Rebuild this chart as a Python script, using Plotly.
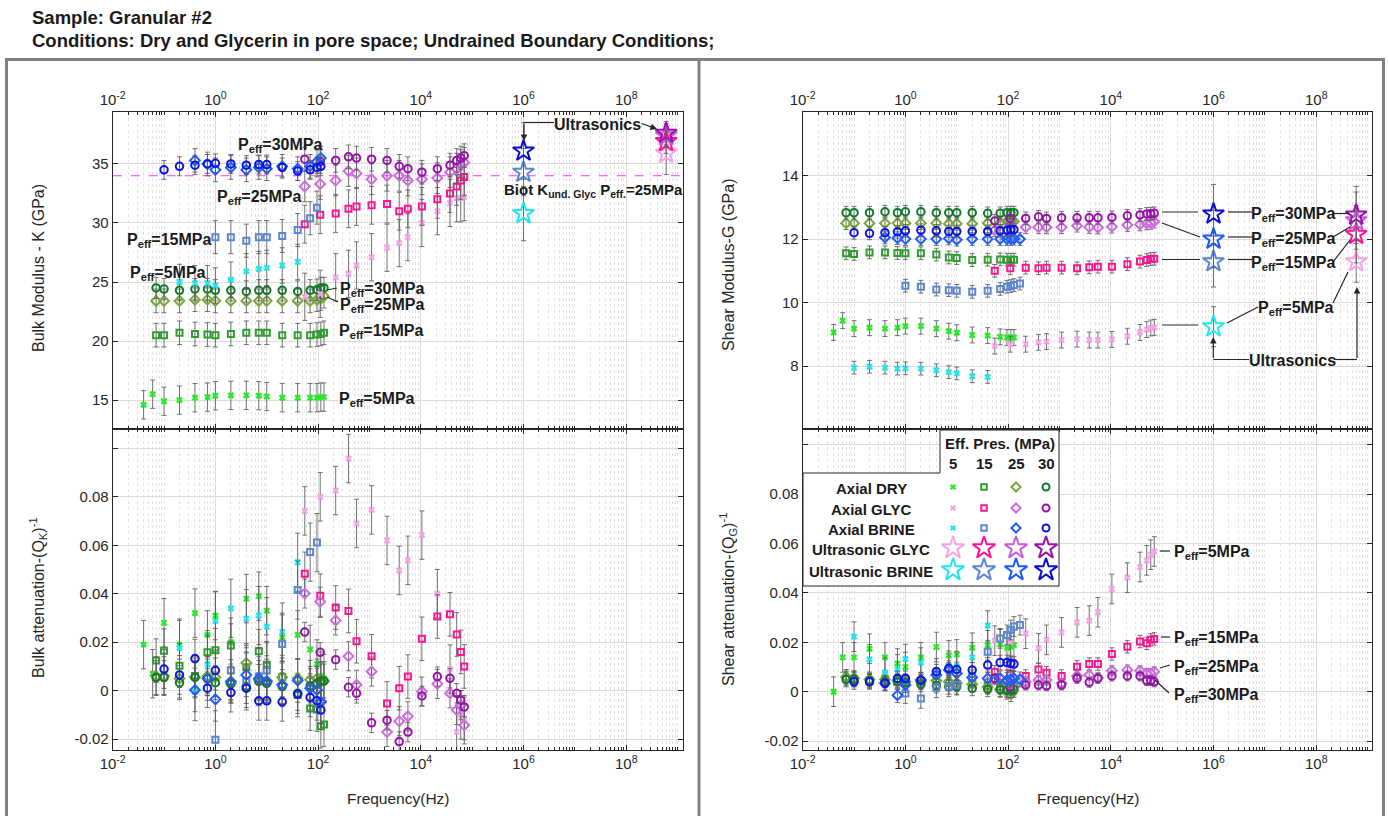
import plotly.graph_objects as go

# ------------------------------------------------------------------ data
# frequencies (Hz)
F_DRY5 = [0.04, 0.06, 0.1, 0.2, 0.4, 0.7, 1, 2, 4, 7, 10, 20, 40, 70, 95, 113, 130]
F_DRY = [0.07, 0.1, 0.2, 0.4, 0.7, 1, 2, 4, 7, 10, 20, 40, 70, 95, 113, 130]
F_GLY = [55, 110, 220, 390, 560, 1100, 2200, 3800, 5600, 10500, 21000, 37000, 50000, 60000, 70000]
F_B5K = [0.2, 0.4, 0.7, 1, 2, 4, 7, 10, 20, 40]
F_B15K = [1, 2, 4, 7, 10, 20, 40, 70, 95]
F_B25K = [0.4, 0.7, 1, 2, 4, 7, 10, 20, 40, 70, 95, 113]
F_B30K = [0.1, 0.2, 0.4, 0.7, 1, 2, 4, 7, 10, 20, 40, 70, 95, 113]
F_B5G = [0.1, 0.2, 0.4, 0.7, 1, 2, 4, 7, 10, 20, 40]
F_B15G = [1, 2, 4, 7, 10, 20, 40, 70, 95, 113, 130, 170]
F_B25G = [0.4, 0.7, 1, 2, 4, 7, 10, 20, 40, 70, 95, 113, 130, 170]
F_B30G = [0.1, 0.2, 0.4, 0.7, 1, 2, 4, 7, 10, 20, 40, 70, 95, 113, 130]
F_US_BRINE = 1e6
F_US_GLYC = 6e8
F_LINE = [1e-2, 1.3e9]

# Bulk modulus K (GPa)
K_D5 = [14.6, 15.5, 14.9, 15.0, 15.2, 15.25, 15.37, 15.4, 15.4, 15.37, 15.3, 15.2, 15.2, 15.2, 15.2, 15.25, 15.25]
K_D15 = [20.5, 20.5, 20.7, 20.6, 20.55, 20.5, 20.6, 20.7, 20.7, 20.7, 20.5, 20.5, 20.5, 20.55, 20.6, 20.7]
K_D25 = [23.4, 23.4, 23.4, 23.5, 23.5, 23.4, 23.4, 23.4, 23.4, 23.4, 23.4, 23.4, 23.4, 23.5, 23.6, 23.8]
K_D30 = [24.5, 24.4, 24.3, 24.4, 24.4, 24.3, 24.3, 24.2, 24.3, 24.3, 24.3, 24.2, 24.3, 24.35, 24.5, 24.5]
K_B5 = [25.0, 24.9, 24.9, 24.7, 25.2, 25.9, 26.1, 26.2, 26.4, 26.7]
K_B15 = [28.8, 28.8, 28.5, 28.8, 28.8, 28.9, 29.4, 30.4, 31.3]
K_B25 = [35.3, 35.0, 34.5, 34.7, 34.5, 34.7, 34.6, 34.8, 34.6, 34.8, 35.2, 35.5]
K_B30 = [34.5, 34.8, 34.9, 35.0, 35.05, 35.0, 34.9, 34.95, 34.95, 34.7, 34.4, 34.5, 34.7, 34.8]
K_G5 = [23.75, 24.0, 25.4, 25.7, 26.4, 27.1, 27.9, 28.3, 28.8, 30.0, 31.0, 31.7, 32.1, 32.1, 32.2]
K_G15 = [29.9, 30.7, 30.8, 31.2, 31.4, 31.5, 31.6, 31.0, 31.2, 31.4, 32.0, 32.5, 33.1, 33.6, 33.9]
K_G25 = [33.1, 33.3, 33.6, 34.4, 34.2, 33.7, 34.0, 34.0, 33.6, 33.7, 33.8, 34.3, 34.6, 34.9, 35.1]
K_G30 = [35.4, 35.2, 35.3, 35.6, 35.5, 35.4, 35.3, 34.8, 34.6, 34.3, 34.6, 34.9, 35.3, 35.5, 35.7]
K_BIOT_GLYC_25 = [34.0, 34.0]
K_US_BRINE = [30.8, 34.3, None, 36.1]      # 5, 15, 25, 30 MPa
K_US_BRINE_ERR = [2.3, 2.0, 0.0, 2.4]
K_US_GLYC = [35.9, 36.9, 37.4, 37.6]
K_US_GLYC_ERR = [1.8, 1.0, 1.0, 1.0]

# Bulk attenuation 1/Q_K
QK_D5 = [0.019, 0.007, 0.028, 0.019, 0.032, 0.023, 0.031, 0.02, 0.038, 0.039, 0.033, 0.022, 0.023, 0.017, 0.011, 0.006, 0.005]
QK_D15 = [0.0124, 0.0165, 0.0103, 0.006, 0.0158, 0.0167, 0.0186, 0.0097, 0.0163, 0.0107, 0.0056, -0.0018, -0.0074, -0.0078, -0.0147, -0.014]
QK_D25 = [0.006, 0.006, 0.005, 0.0055, 0.006, 0.0055, 0.003, 0.0114, 0.0045, 0.0033, 0.0055, 0.005, 0.0045, 0.005, 0.0038, 0.004]
QK_D30 = [0.0054, 0.0054, 0.0033, 0.0055, 0.0049, 0.0033, 0.0028, 0.0017, 0.0038, 0.003, 0.0017, -0.0011, 0.002, 0.003, 0.004, 0.004]
QK_B5 = [0.0176, -0.0004, 0.0107, 0.0288, 0.034, 0.0297, 0.031, 0.0264, 0.0242, 0.053]
QK_B15 = [-0.0203, 0.0083, 0.004, 0.0058, 0.0083, 0.0193, 0.0415, 0.0572, 0.0611]
QK_B25 = [0.0003, 0.005, -0.0036, 0.0038, 0.0065, 0.005, 0.004, 0.0024, 0.0042, 0.001, 0.0003, -0.0046]
QK_B30 = [0.0089, 0.0065, 0.0132, 0.001, 0.0083, -0.0008, 0.001, -0.0042, -0.0042, -0.0046, -0.0014, -0.0028, -0.0042, -0.008]
QK_G5 = [0.0742, 0.08, 0.0826, 0.0958, 0.069, 0.0746, 0.062, 0.0496, 0.0538, 0.0642, 0.04, 0.0089, -0.017, -0.01, -0.012]
QK_G15 = [0.0482, 0.0392, 0.0343, 0.0329, 0.0204, 0.0142, -0.0053, 0.001, 0.0058, 0.0214, 0.0306, 0.0315, 0.0232, 0.016, 0.01]
QK_G25 = [0.0401, 0.0367, 0.029, 0.0142, 0.0024, 0.0079, -0.0171, -0.0126, -0.0106, -0.0004, 0.0028, -0.0011, -0.008, -0.006, -0.0143]
QK_G30 = [0.0242, 0.0158, 0.0128, 0.0014, -0.0011, -0.0133, -0.0122, -0.021, -0.0171, -0.0022, 0.0058, 0.0051, -0.0011, -0.004, -0.0067]

# Shear modulus G (GPa)
G_D5 = [9.06, 9.43, 9.18, 9.21, 9.18, 9.21, 9.26, 9.26, 9.18, 9.1, 9.05, 8.98, 8.96, 8.92, 8.9, 8.9, 8.9]
G_D15 = [11.55, 11.53, 11.58, 11.58, 11.56, 11.55, 11.55, 11.51, 11.42, 11.40, 11.34, 11.35, 11.36, 11.35, 11.35, 11.35]
G_D25 = [12.5, 12.5, 12.5, 12.5, 12.5, 12.5, 12.5, 12.5, 12.48, 12.48, 12.48, 12.5, 12.52, 12.55, 12.55, 12.55]
G_D30 = [12.83, 12.83, 12.83, 12.86, 12.83, 12.86, 12.86, 12.83, 12.83, 12.83, 12.83, 12.81, 12.81, 12.83, 12.83, 12.83]
G_B5 = [7.95, 7.98, 7.95, 7.92, 7.93, 7.92, 7.87, 7.81, 7.77, 7.68, 7.66]
G_B15 = [10.53, 10.5, 10.41, 10.39, 10.37, 10.34, 10.37, 10.43, 10.5, 10.52, 10.55, 10.6]
G_B25 = [12.05, 12.03, 12.0, 12.0, 12.0, 12.02, 11.98, 12.0, 12.0, 12.0, 12.0, 12.0, 12.01, 12.0]
G_B30 = [12.2, 12.18, 12.2, 12.23, 12.26, 12.28, 12.26, 12.24, 12.24, 12.24, 12.24, 12.26, 12.28, 12.3, 12.3]
G_G5 = [8.63, 8.69, 8.69, 8.75, 8.77, 8.82, 8.85, 8.82, 8.82, 8.84, 8.94, 9.06, 9.15, 9.2, 9.22]
G_G15 = [11.0, 11.08, 11.1, 11.08, 11.1, 11.1, 11.08, 11.11, 11.13, 11.13, 11.21, 11.29, 11.34, 11.37, 11.38]
G_G25 = [12.28, 12.45, 12.37, 12.37, 12.37, 12.37, 12.42, 12.38, 12.36, 12.39, 12.44, 12.46, 12.49, 12.51, 12.55]
G_G30 = [12.57, 12.65, 12.65, 12.7, 12.65, 12.67, 12.67, 12.67, 12.67, 12.68, 12.73, 12.76, 12.79, 12.8, 12.81]
G_US_BRINE = [9.24, 11.29, 12.0, 12.79]
G_US_BRINE_ERR = [0.63, 0.8, 0.9, 0.93]
G_US_GLYC = [11.29, 12.15, 12.58, 12.76]
G_US_GLYC_ERR = [0.65, 0.9, 0.9, 0.9]

# Shear attenuation 1/Q_G
QG_D5 = [0.0, 0.0139, 0.0139, 0.0174, 0.0139, 0.0114, 0.01, 0.0139, 0.0181, 0.0147, 0.0151, 0.0178, 0.0188, 0.0192, 0.0178, 0.0182, 0.0189]
QG_D15 = [0.0054, 0.005, 0.0045, 0.005, 0.004, 0.004, 0.004, 0.004, 0.0035, 0.003, 0.003, 0.0025, 0.002, 0.001, 0.0015, 0.002]
QG_D25 = [0.006, 0.0055, 0.005, 0.005, 0.0045, 0.004, 0.004, 0.0045, 0.004, 0.0035, 0.003, 0.002, 0.001, 0.0, -0.001, 0.002]
QG_D30 = [0.005, 0.005, 0.0045, 0.004, 0.004, 0.0035, 0.003, 0.0025, 0.002, 0.002, 0.0014, 0.001, 0.0008, 0.0006, 0.0006, 0.0008]
QG_B5 = [0.0223, 0.0131, 0.0078, 0.009, 0.0132, 0.0118, 0.0074, 0.0105, 0.0104, 0.0139, 0.0268]
QG_B15 = [-0.0007, -0.0027, 0.0016, 0.002, 0.0027, 0.006, 0.0162, 0.0216, 0.023, 0.025, 0.0264, 0.027]
QG_B25 = [0.0034, -0.0014, 0.0027, 0.0047, 0.0068, 0.0088, 0.0074, 0.0058, 0.0054, 0.0054, 0.0047, 0.005, 0.0054, 0.005]
QG_B30 = [0.004, 0.004, 0.0034, 0.0054, 0.0054, 0.0047, 0.0081, 0.0095, 0.009, 0.0088, 0.0108, 0.0118, 0.0118, 0.0115, 0.0112]
QG_G5 = [0.0207, 0.02, 0.0235, 0.0176, 0.021, 0.024, 0.0281, 0.0288, 0.0322, 0.0416, 0.0462, 0.0505, 0.0532, 0.0555, 0.0568]
QG_G15 = [0.0081, 0.0074, 0.0064, 0.009, 0.0077, 0.0064, 0.0101, 0.0112, 0.0112, 0.0153, 0.0182, 0.0203, 0.0196, 0.021, 0.0214]
QG_G25 = [0.005, 0.003, 0.004, 0.0047, 0.0047, 0.0034, 0.0064, 0.0068, 0.0057, 0.0085, 0.0088, 0.0085, 0.0074, 0.0074, 0.0081]
QG_G30 = [0.0054, 0.002, 0.0027, 0.0027, 0.0024, 0.0027, 0.0054, 0.0038, 0.0054, 0.0064, 0.0064, 0.0064, 0.0045, 0.0045, 0.004]

# tick labels
X_TICKS = [1e-2, 1, 1e2, 1e4, 1e6, 1e8]
X_TICKTEXT = ["10<sup>-2</sup>", "10<sup>0</sup>", "10<sup>2</sup>", "10<sup>4</sup>",
              "10<sup>6</sup>", "10<sup>8</sup>"]
K_TICKS = [15, 20, 25, 30, 35]
G_TICKS = [8, 10, 12, 14, 16]
G_TICKTEXT = ["8", "10", "12", "14", ""]
Q_TICKS = [-0.02, 0, 0.02, 0.04, 0.06, 0.08, 0.1]
Q_TICKTEXT = ["-0.02", "0", "0.02", "0.04", "0.06", "0.08", ""]
PRESSURES = ["5", "15", "25", "30"]
LEG_ROWS = ["Axial DRY", "Axial GLYC", "Axial BRINE", "Ultrasonic GLYC", "Ultrasonic BRINE"]

# ------------------------------------------------------------------ styles
FONT = "Liberation Sans, Arial, sans-serif"
TXT = "#1a1a1a"
AX = "#262626"
ERRC = "rgba(90,90,90,0.85)"

SYM = ["x", "square-open", "diamond-open", "circle-open"]
SIZE = [6, 6, 7.5, 7.5]
C_DRY = ["#22ee22", "#2f9e2f", "#78a83a", "#0d7a27"]
C_GLY = ["#f7a3ea", "#ff1493", "#d06ae0", "#9a0fad"]
C_BRI = ["#20e6f0", "#5a86d4", "#1f5cff", "#0a14e8"]
C_USG = ["#f7a3ea", "#ff1493", "#c95ddc", "#9a0fad"]
C_USB = ["#20e6f0", "#5a86d4", "#1f5cff", "#0a0ad8"]

W, H = 1389, 816
fig = go.Figure()


def series(x, y, err, k, colors, xa, ya):
    lw = 0 if SYM[k] == "x" else 2
    fig.add_trace(go.Scatter(
        x=x, y=y, mode="markers", xaxis=xa, yaxis=ya, showlegend=False, hoverinfo="skip",
        marker=dict(symbol=SYM[k], size=SIZE[k], color=colors[k],
                    line=dict(color=colors[k], width=lw)),
        error_y=dict(type="constant", value=err, color=ERRC, thickness=1, width=2.5)))


def star(x, y, err, color, xa, ya, size=16):
    if y is None:
        return
    fig.add_trace(go.Scatter(
        x=[x], y=[y], mode="markers", xaxis=xa, yaxis=ya, showlegend=False, hoverinfo="skip",
        marker=dict(symbol="star-open", size=size, color=color, line=dict(color=color, width=2)),
        error_y=dict(type="constant", value=err, color=ERRC, thickness=1, width=2.5)))


# ---- Biot reference line (dashed magenta)
fig.add_trace(go.Scatter(x=F_LINE, y=K_BIOT_GLYC_25, mode="lines", xaxis="x", yaxis="y",
                         line=dict(color="#ff33ff", width=1.2, dash="dash"),
                         showlegend=False, hoverinfo="skip"))

# ---- Bulk modulus (x, y)
series(F_DRY5, K_D5, 1.2, 0, C_DRY, "x", "y")
series(F_DRY, K_D15, 1.0, 1, C_DRY, "x", "y")
series(F_DRY, K_D25, 1.0, 2, C_DRY, "x", "y")
series(F_DRY, K_D30, 0.9, 3, C_DRY, "x", "y")
series(F_GLY, K_G5, 2.0, 0, C_GLY, "x", "y")
series(F_GLY, K_G15, 1.6, 1, C_GLY, "x", "y")
series(F_GLY, K_G25, 1.3, 2, C_GLY, "x", "y")
series(F_GLY, K_G30, 1.0, 3, C_GLY, "x", "y")
series(F_B5K, K_B5, 1.5, 0, C_BRI, "x", "y")
series(F_B15K, K_B15, 1.4, 1, C_BRI, "x", "y")
series(F_B25K, K_B25, 1.0, 2, C_BRI, "x", "y")
series(F_B30K, K_B30, 0.8, 3, C_BRI, "x", "y")
for i in range(4):
    star(F_US_BRINE, K_US_BRINE[i], K_US_BRINE_ERR[i], C_USB[i], "x", "y")
for i in range(4):
    star(F_US_GLYC, K_US_GLYC[i], K_US_GLYC_ERR[i], C_USG[i], "x", "y")

# ---- Bulk attenuation (x2, y2)
series(F_DRY5, QK_D5, 0.010, 0, C_DRY, "x2", "y2")
series(F_DRY, QK_D15, 0.009, 1, C_DRY, "x2", "y2")
series(F_DRY, QK_D25, 0.008, 2, C_DRY, "x2", "y2")
series(F_DRY, QK_D30, 0.007, 3, C_DRY, "x2", "y2")
series(F_GLY, QK_G5, 0.010, 0, C_GLY, "x2", "y2")
series(F_GLY, QK_G15, 0.009, 1, C_GLY, "x2", "y2")
series(F_GLY, QK_G25, 0.006, 2, C_GLY, "x2", "y2")
series(F_GLY, QK_G30, 0.004, 3, C_GLY, "x2", "y2")
series(F_B5K, QK_B5, 0.012, 0, C_BRI, "x2", "y2")
series(F_B15K, QK_B15, 0.012, 1, C_BRI, "x2", "y2")
series(F_B25K, QK_B25, 0.009, 2, C_BRI, "x2", "y2")
series(F_B30K, QK_B30, 0.008, 3, C_BRI, "x2", "y2")

# ---- Shear modulus (x3, y3)
series(F_DRY5, G_D5, 0.25, 0, C_DRY, "x3", "y3")
series(F_DRY, G_D15, 0.2, 1, C_DRY, "x3", "y3")
series(F_DRY, G_D25, 0.2, 2, C_DRY, "x3", "y3")
series(F_DRY, G_D30, 0.2, 3, C_DRY, "x3", "y3")
series(F_GLY, G_G5, 0.25, 0, C_GLY, "x3", "y3")
series(F_GLY, G_G15, 0.2, 1, C_GLY, "x3", "y3")
series(F_GLY, G_G25, 0.2, 2, C_GLY, "x3", "y3")
series(F_GLY, G_G30, 0.2, 3, C_GLY, "x3", "y3")
series(F_B5G, G_B5, 0.2, 0, C_BRI, "x3", "y3")
series(F_B15G, G_B15, 0.2, 1, C_BRI, "x3", "y3")
series(F_B25G, G_B25, 0.2, 2, C_BRI, "x3", "y3")
series(F_B30G, G_B30, 0.2, 3, C_BRI, "x3", "y3")
for i in range(4):
    star(F_US_BRINE, G_US_BRINE[i], G_US_BRINE_ERR[i], C_USB[i], "x3", "y3")
for i in range(4):
    star(F_US_GLYC, G_US_GLYC[i], G_US_GLYC_ERR[i], C_USG[i], "x3", "y3")

# ---- Shear attenuation (x4, y4)
series(F_DRY5, QG_D5, 0.006, 0, C_DRY, "x4", "y4")
series(F_DRY, QG_D15, 0.003, 1, C_DRY, "x4", "y4")
series(F_DRY, QG_D25, 0.003, 2, C_DRY, "x4", "y4")
series(F_DRY, QG_D30, 0.003, 3, C_DRY, "x4", "y4")
series(F_GLY, QG_G5, 0.006, 0, C_GLY, "x4", "y4")
series(F_GLY, QG_G15, 0.0025, 1, C_GLY, "x4", "y4")
series(F_GLY, QG_G25, 0.002, 2, C_GLY, "x4", "y4")
series(F_GLY, QG_G30, 0.002, 3, C_GLY, "x4", "y4")
series(F_B5G, QG_B5, 0.006, 0, C_BRI, "x4", "y4")
series(F_B15G, QG_B15, 0.004, 1, C_BRI, "x4", "y4")
series(F_B25G, QG_B25, 0.003, 2, C_BRI, "x4", "y4")
series(F_B30G, QG_B30, 0.003, 3, C_BRI, "x4", "y4")

# ---- legend table (overlay pixel axes x5/y5)
LEG_COL_X = [953, 984, 1016, 1046]
LEG_ROW_Y = [487, 508, 528, 548, 570]
leg_sets = [C_DRY, C_GLY, C_BRI, C_USG, C_USB]
for r, cols in enumerate(leg_sets):
    for c in range(4):
        if r < 3:
            lw = 0 if SYM[c] == "x" else 2
            mk = dict(symbol=SYM[c], size=SIZE[c] - 0.5, color=cols[c], line=dict(color=cols[c], width=lw))
        else:
            mk = dict(symbol="star-open", size=17, color=cols[c], line=dict(color=cols[c], width=2))
        fig.add_trace(go.Scatter(x=[LEG_COL_X[c]], y=[LEG_ROW_Y[r]], mode="markers", xaxis="x5",
                                 yaxis="y5", marker=mk, showlegend=False, hoverinfo="skip"))

fig.add_shape(type="path", xref="x5", yref="y5", layer="below",
              path="M 803,473 L 940,473 L 940,430 L 1059,430 L 1059,586 L 803,586 Z",
              fillcolor="white", line=dict(color=AX, width=1))


def ann(x, y, text, size=15, xanchor="center", bold=True, angle=0, color=TXT):
    fig.add_annotation(x=x, y=y, xref="x5", yref="y5", text=f"<b>{text}</b>" if bold else text,
                       showarrow=False, xanchor=xanchor, yanchor="middle", textangle=angle,
                       font=dict(size=size, color=color, family=FONT))


def seg(x0, y0, x1, y1):
    fig.add_shape(type="line", xref="x5", yref="y5", x0=x0, y0=y0, x1=x1, y1=y1,
                  line=dict(color=AX, width=1.2), layer="above")


def arrow(tx, ty, sx, sy):
    fig.add_annotation(x=tx, y=ty, ax=sx, ay=sy, xref="x5", yref="y5", axref="x5", ayref="y5",
                       text="", showarrow=True, arrowhead=2, arrowsize=1.1, arrowwidth=1.2,
                       arrowcolor=AX)


ann(1000, 443, "Eff. Pres. (MPa)", 15)
for c in range(4):
    ann(LEG_COL_X[c], 463, PRESSURES[c], 15)
for r in range(5):
    ann(871, LEG_ROW_Y[r] + 1, LEG_ROWS[r], 15)

# ---- titles / axis titles
ann(30, 17, "Sample: Granular #2", 18.5, xanchor="left")
ann(30, 40, "Conditions: Dry and Glycerin in pore space; Undrained Boundary Conditions;", 18.5, xanchor="left")
ann(38, 268, "Bulk Modulus - K (GPa)", 16, bold=False, angle=-90, color=AX)
ann(38, 598, "Bulk attenuation-(Q<sub>K</sub>)<sup>-1</sup>", 16, bold=False, angle=-90, color=AX)
ann(728, 265, "Shear Modulus-G (GPa)", 16, bold=False, angle=-90, color=AX)
ann(728, 600, "Shear attenuation-(Q<sub>G</sub>)<sup>-1</sup>", 16, bold=False, angle=-90, color=AX)
ann(398, 798, "Frequency(Hz)", 15.5, bold=False, color=AX)
ann(1088, 798, "Frequency(Hz)", 15.5, bold=False, color=AX)

# ---- bulk modulus labels
P = "P<sub>eff</sub>"
ann(280, 145, f"{P}=30MPa", 16)
ann(259, 197, f"{P}=25MPa", 16)
ann(169, 240, f"{P}=15MPa", 16)
ann(168, 273, f"{P}=5MPa", 16)
ann(338, 289, f"{P}=30MPa", 16, xanchor="left")
seg(327, 290, 337, 288)
ann(338, 305, f"{P}=25MPa", 16, xanchor="left")
seg(327, 297, 338, 302)
ann(337, 331, f"{P}=15MPa", 16, xanchor="left")
ann(337, 399, f"{P}=5MPa", 16, xanchor="left")
ann(593, 190, "Biot K<sub>und. Glyc</sub> P<sub>eff.</sub>=25MPa", 15)
ann(597, 124, "Ultrasonics", 16)
seg(524, 122.5, 554, 122.5)
arrow(524, 141, 524, 122.5)
arrow(657, 129, 640, 123)

# ---- shear modulus labels
for yy, lab in [(213, "30"), (238, "25"), (262, "15")]:
    ann(1293, yy + 1, f"{P}={lab}MPa", 16)
seg(1162, 212, 1198, 212)
seg(1228, 212, 1252, 212)
seg(1333, 213.5, 1349, 213.5)
seg(1162, 223, 1200, 237)
seg(1228, 237, 1252, 237)
seg(1333, 237, 1350, 227)
seg(1162, 259.5, 1200, 259.5)
seg(1228, 259.5, 1252, 259.5)
seg(1333, 262, 1350, 240)
ann(1296, 308, f"{P}=5MPa", 16)
seg(1162, 325, 1198, 325)
seg(1227, 323, 1258, 307)
seg(1333, 303, 1348, 272)
ann(1292, 360, "Ultrasonics", 16)
seg(1213.3, 359.5, 1249, 359.5)
seg(1334, 359.5, 1357, 359.5)
arrow(1213.3, 337, 1213.3, 359.5)
arrow(1357, 287, 1357, 359.5)

# ---- shear attenuation labels
ann(1172, 552, f"{P}=5MPa", 16, xanchor="left")
seg(1160, 551, 1170, 551)
ann(1172, 638, f"{P}=15MPa", 16, xanchor="left")
seg(1161, 637, 1170, 637)
ann(1172, 667, f"{P}=25MPa", 16, xanchor="left")
seg(1160, 668, 1170, 665)
ann(1172, 695, f"{P}=30MPa", 16, xanchor="left")
seg(1155, 680, 1169, 693)

# ---- outer frame
FR = "#808080"
fig.add_shape(type="rect", xref="x5", yref="y5", x0=6.5, x1=1383.5, y0=59.5, y1=830,
              line=dict(color=FR, width=3), layer="above")
fig.add_shape(type="line", xref="x5", yref="y5", x0=699, x1=699, y0=59.5, y1=830,
              line=dict(color=FR, width=3), layer="above")

# ------------------------------------------------------------------ axes
MINOR_X = [m * 10.0 ** e for e in range(-2, 10) for m in range(1, 10) if not (m == 1 and e % 2 == 0)]


def xax(dom, side, anchor, rng):
    return dict(type="log", range=rng, domain=dom, anchor=anchor, side=side, automargin=False,
                tickmode="array", tickvals=X_TICKS, ticktext=X_TICKTEXT,
                ticks="inside", ticklen=5, tickcolor=AX, showline=True, linecolor=AX, linewidth=1,
                mirror="ticks", showgrid=True, gridcolor="#dcdcdc", gridwidth=1, zeroline=False,
                tickfont=dict(size=15, color=AX, family=FONT),
                minor=dict(tickmode="array", tickvals=MINOR_X, ticks="inside", ticklen=3, tickcolor=AX,
                           showgrid=True, gridcolor="#e2e2e2", griddash="dot", gridwidth=1))


def yax(dom, anchor, rng, tv, tt):
    return dict(range=rng, domain=dom, anchor=anchor, tickmode="array", tickvals=tv, ticktext=tt,
                automargin=False,
                ticks="inside", ticklen=5, tickcolor=AX, showline=True, linecolor=AX, linewidth=1,
                mirror="ticks", showgrid=True, gridcolor="#dcdcdc", gridwidth=1, zeroline=False,
                tickfont=dict(size=15, color=AX, family=FONT))


XL = [112.7 / W, 682.7 / W]
XR = [802.7 / W, 1371.7 / W]
YT = [1 - 429 / H, 1 - 112 / H]
YB = [1 - 750 / H, 1 - 429 / H]

fig.update_layout(
    width=W, height=H, margin=dict(l=0, r=0, t=0, b=0, pad=0, autoexpand=False),
    paper_bgcolor="white", plot_bgcolor="rgba(0,0,0,0)", showlegend=False,
    font=dict(family=FONT, color=AX),
    xaxis=xax(XL, "top", "y", [-2, 9.1]),
    yaxis=yax(YT, "x", [12.55, 39.4], K_TICKS, [str(v) for v in K_TICKS]),
    xaxis2=xax(XL, "bottom", "y2", [-2, 9.1]),
    yaxis2=yax(YB, "x2", [-0.0245, 0.108], Q_TICKS, Q_TICKTEXT),
    xaxis3=xax(XR, "top", "y3", [-2, 9.08]),
    yaxis3=yax(YT, "x3", [6.02, 16.0], G_TICKS, G_TICKTEXT),
    xaxis4=xax(XR, "bottom", "y4", [-2, 9.08]),
    yaxis4=yax(YB, "x4", [-0.0236, 0.1064], Q_TICKS, Q_TICKTEXT),
    xaxis5=dict(domain=[0, 1], range=[0, W], visible=False, anchor="y5", fixedrange=True,
                automargin=False),
    yaxis5=dict(domain=[0, 1], range=[H, 0], visible=False, anchor="x5", fixedrange=True,
                automargin=False),
)

fig.write_html("out.html")
